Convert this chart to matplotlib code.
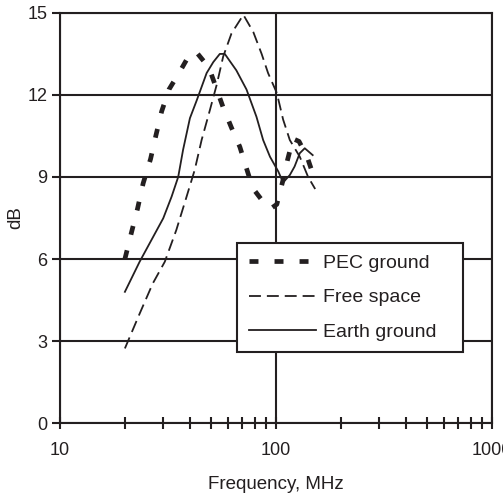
import numpy as np
import matplotlib
matplotlib.use('Agg')
import matplotlib.pyplot as plt
from matplotlib.ticker import LogLocator, NullFormatter

ink = '#231f20'
plt.rcParams['font.family'] = ['Liberation Sans', 'DejaVu Sans']

# PEC ground (thick dotted)
pec_f = [20, 21.5, 22.9, 24.3, 26.3, 27.8, 29.6, 32, 35.9, 40, 43,
         49, 56.9, 62.3, 68.1, 78, 86, 95, 101, 108, 113, 120, 128, 140, 150]
pec_db = [6.0, 7.0, 7.85, 8.77, 9.66, 10.5, 11.4, 12.2, 12.85, 13.5, 13.55,
          13.0, 11.56, 10.8, 10.1, 8.6, 8.16, 7.85, 8.0, 8.9, 9.6, 10.4, 10.3, 9.7, 9.0]

# Free space (dashed)
free_f = [20, 23.4, 26.9, 30.6, 34.6, 38.6, 42.1, 45.3, 49.5, 53.2, 57,
          62.3, 70.7, 78.6, 85.9, 92, 101, 108, 116, 129, 141, 152]
free_db = [2.73, 4.0, 5.1, 5.9, 7.06, 8.28, 9.26, 10.35, 11.45, 12.37, 13.4,
           14.25, 14.93, 14.3, 13.5, 12.8, 12.07, 11.1, 10.35, 9.74, 9.0, 8.56]

# Earth ground (solid)
earth_f = [20, 23.4, 30.1, 32.9, 35.3, 37.2, 40, 43, 47.8, 51.3, 55, 58,
           65.6, 73.1, 81.3, 87.3, 93.9, 102.6, 108, 116, 122, 129, 136, 148]
earth_db = [4.8, 5.9, 7.49, 8.28, 9.0, 10.0, 11.15, 11.8, 12.8, 13.2, 13.5, 13.5,
            12.9, 12.2, 11.2, 10.35, 9.74, 9.2, 8.8, 9.07, 9.38, 9.87, 10.05, 9.8]

fig = plt.figure(figsize=(5.03, 4.96), dpi=100)
ax = fig.add_axes([0.119, 0.147, 0.859, 0.827])

ax.plot(pec_f, pec_db, color=ink, lw=3.4, linestyle=(0, (1.9, 3.4)),
        label='PEC ground', solid_capstyle='butt', dash_capstyle='butt')
ax.plot(free_f, free_db, color=ink, lw=1.3, linestyle=(0, (6.6, 3.3)),
        label='Free space', dash_capstyle='butt')
ax.plot(earth_f, earth_db, color=ink, lw=1.3, label='Earth ground')

ax.set_xscale('log')
ax.set_xlim(10, 1000)
ax.set_ylim(0, 15)
ax.set_xticks([10, 100, 1000], labels=['10', '100', '1000'])
ax.xaxis.set_minor_locator(LogLocator(base=10, subs=np.arange(2, 10)))
ax.xaxis.set_minor_formatter(NullFormatter())
ax.set_yticks([0, 3, 6, 9, 12, 15])

ax.grid(True, which='major', color=ink, lw=1.5)
for s in ax.spines.values():
    s.set_color(ink)
    s.set_linewidth(1.5)

ax.tick_params(axis='x', which='both', direction='inout', length=9, width=1.5,
               color=ink, labelsize=13, labelcolor=ink, pad=9)
ax.tick_params(axis='y', direction='out', length=6, width=1.5, color=ink,
               labelsize=13, labelcolor=ink, pad=3)

ax.set_xlabel('Frequency, MHz', fontsize=13.5, color=ink, labelpad=12)
ax.set_ylabel('dB', fontsize=13.5, color=ink, labelpad=2)

leg = ax.legend(loc='upper left', bbox_to_anchor=(0.41, 0.0, 0.523, 0.439),
                mode='expand', fontsize=14, frameon=True, fancybox=False,
                framealpha=1, edgecolor=ink, borderpad=0.6, labelspacing=0.85,
                handlelength=3.45, handletextpad=0.35, borderaxespad=0)
leg.get_frame().set_linewidth(1.5)
for t in leg.get_texts():
    t.set_color(ink)

fig.savefig('out.png', dpi=100)
